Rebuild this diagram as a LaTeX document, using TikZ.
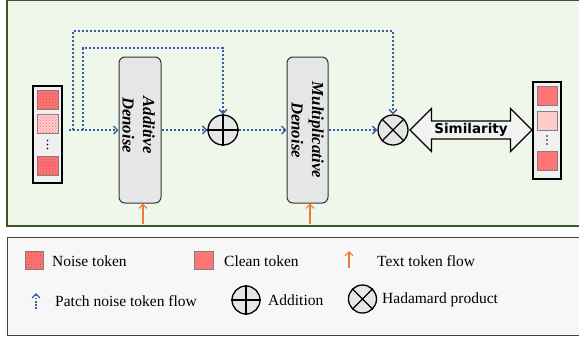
\documentclass[tikz,border=0pt]{standalone}
\usepackage{fontspec}
\setmainfont{Liberation Serif}
\newfontfamily\simfont{DejaVu Sans}
\usetikzlibrary{arrows.meta,shapes.arrows,patterns}
\definecolor{panelgreen}{HTML}{EFF7EB}
\definecolor{bordergreen}{HTML}{385723}
\definecolor{legendbg}{HTML}{F7F7F7}
\definecolor{flowblue}{HTML}{3A5DA5}
\definecolor{textorange}{HTML}{ED7D31}
\definecolor{cleanred}{HTML}{FF7575}
\definecolor{lightpink}{HTML}{FFCCCC}
\definecolor{boxgray}{HTML}{E6E6E6}
\definecolor{dotred}{HTML}{D94848}
\begin{document}
\begin{tikzpicture}[x=1pt,y=-1pt,
  flow/.style={flowblue, line width=2pt, dash pattern=on 2.2pt off 1.8pt,
    -{Straight Barb[length=4pt,width=8pt,line width=1.4pt]}},
  textflow/.style={textorange, line width=1.3pt,
    -{Straight Barb[length=4pt,width=8pt,line width=1.2pt]}},
  stack/.style={draw=black, fill=gray!12, line width=1.2pt, inner sep=0},
  token/.style={draw=gray, line width=1pt, fill=cleanred, inner sep=0},
  pinktoken/.style={token, fill=lightpink},
  noisy/.style={postaction={pattern=crosshatch dots, pattern color=dotred}},
  pinknoisy/.style={postaction={pattern=crosshatch dots, pattern color=cleanred}},
  dbox/.style={draw=black!80, fill=boxgray, line width=1pt, rounded corners=6pt, inner sep=0},
  dtext/.style={rotate=-90, align=center, font=\fontsize{16.8}{20.5}\selectfont\bfseries\itshape},
  opnode/.style={circle, draw=black, line width=1.3pt, fill=boxgray, inner sep=0},
  ltext/.style={anchor=west, inner sep=0, font=\fontsize{15.5}{18}\selectfont},
]
\useasboundingbox (0,0) rectangle (579,341);

% panels
\draw[draw=bordergreen, fill=panelgreen, line width=1.3pt] (7,0.7) rectangle (600,226);
\draw[draw=black!75, fill=legendbg, line width=1pt] (7,237) rectangle (600,335);

% left stack
\node[stack, minimum width=29, minimum height=97] (lstack) at (47.5,134.5) {};
\node[token, noisy, minimum width=21, minimum height=19] (l1) at (47.5,99.5) {};
\node[pinktoken, pinknoisy, minimum width=21, minimum height=19] (l2) at (47.5,124) {};
\node[token, noisy, minimum width=21, minimum height=19] (l3) at (47.5,165.5) {};
\foreach \d in {-4,0,4} \fill (47.5,144.5+\d) circle (0.9);

% right stack
\node[stack, minimum width=28, minimum height=97] (rstack) at (547,130.5) {};
\node[token, minimum width=20, minimum height=19] (r1) at (547,96) {};
\node[pinktoken, minimum width=20, minimum height=19] (r2) at (547,120.5) {};
\node[token, minimum width=20, minimum height=19] (r3) at (547,161) {};
\foreach \d in {-4,0,4} \fill (547,140+\d) circle (0.9);

% denoise boxes
\node[dbox, minimum width=42, minimum height=146] (add) at (140,130) {};
\node[dtext] (addt) at (138.5,125) {Additive\\Denoise};
\node[dbox, minimum width=41, minimum height=146] (mul) at (307.5,130) {};
\node[dtext] (mult) at (307.5,130) {Multiplicative\\Denoise};

% operators
\node[opnode, minimum size=30] (cp) at (223,130) {};
\draw[line width=1.3pt] (cp.north) -- (cp.south) (cp.west) -- (cp.east);
\node[opnode, minimum size=30] (ct) at (393,130) {};
\draw[line width=1.3pt] (ct.north east) -- (ct.south west) (ct.north west) -- (ct.south east);

% similarity
\node[double arrow, draw=black, line width=1.2pt, fill=gray!10,
  minimum height=122, minimum width=43, double arrow head extend=10,
  double arrow tip angle=90, inner sep=0,
  font=\simfont\bfseries\fontsize{13.5}{15}\selectfont] (sim) at (471,130) {Similarity};

% flows
\coordinate (s0) at (69,130);
\coordinate (b1) at (73,130);
\coordinate (t1) at (73,31);
\coordinate (b2) at (83,130);
\coordinate (t2) at (83,48);
\draw[flow] (s0) -- (add.west);
\draw[flow] (add.east) -- (cp.west);
\draw[flow] (cp.east) -- (mul.west);
\draw[flow] (mul.east) -- (ct.west);
\draw[flow] (b1) -- (t1) -| (ct.north);
\draw[flow] (b2) -- (t2) -| (cp.north);

% text token arrows
\coordinate (oa) at (143,224);
\coordinate (ob) at (310,224);
\draw[textflow] (oa) -- ([xshift=3]add.south);
\draw[textflow] (ob) -- ([xshift=2.5]mul.south);

% legend
\node[token, noisy, minimum width=18, minimum height=18] (lgn) at (34,260) {};
\node[ltext] (lgnt) at (52,261) {Noise token};
\node[token, minimum width=19, minimum height=18] (lgc) at (203.5,260) {};
\node[ltext] (lgct) at (224,261) {Clean token};
\coordinate (lo1) at (349,268);
\coordinate (lo2) at (349,251);
\draw[textflow] (lo1) -- (lo2);
\node[ltext] (lgot) at (377,261) {Text token flow};

\coordinate (lb1) at (36,309);
\coordinate (lb2) at (36,293);
\draw[flow, line width=1.5pt, dash pattern=on 1.6pt off 1.6pt] (lb1) -- (lb2);
\node[ltext] (lgbt) at (55,301) {Patch noise token flow};
\node[opnode, minimum size=28] (lcp) at (246,300) {};
\draw[line width=1.3pt] (lcp.north) -- (lcp.south) (lcp.west) -- (lcp.east);
\node[ltext] (lcpt) at (268,300) {Addition};
\node[opnode, minimum size=28] (lct) at (362.5,299) {};
\draw[line width=1.3pt] (lct.north east) -- (lct.south west) (lct.north west) -- (lct.south east);
\node[ltext] (lctt) at (382,300) {Hadamard product};
\end{tikzpicture}
\end{document}
